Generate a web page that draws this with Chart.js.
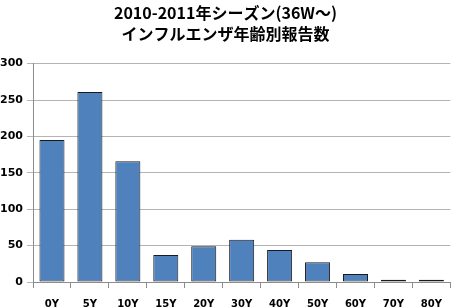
<!DOCTYPE html>
<html>
<head>
<meta charset="utf-8">
<script src="https://cdn.jsdelivr.net/npm/chart.js@4"></script>
<style>
  html, body { margin: 0; padding: 0; background: #fff; }
  canvas { display: block; }
</style>
</head>
<body>
<canvas id="myChart" width="452" height="308"></canvas>
<script>
const titleLines = ["2010-2011年シーズン(36W～)", "インフルエンザ年齢別報告数"];
const ageLabels = ["0Y", "5Y", "10Y", "15Y", "20Y", "30Y", "40Y", "50Y", "60Y", "70Y", "80Y"];
const reports = [195, 261, 166, 37, 49, 58, 44, 27, 11, 3, 3];
const yTicks = [0, 50, 100, 150, 200, 250, 300];

const ctx = document.getElementById("myChart").getContext("2d");
const jpFont = "'Noto Sans CJK JP', 'DejaVu Sans', sans-serif";

const data = {
  labels: ageLabels,
  datasets: [
    {
      data: reports,
      backgroundColor: "#4F81BD",
      borderColor: "#1a1a1a",
      borderWidth: 1,
      borderSkipped: false,
      barPercentage: 0.66,
      categoryPercentage: 1,
    },
  ],
};

const config = {
  type: "bar",
  data,
  options: {
    responsive: false,
    animation: false,
    layout: { padding: { left: 0, right: 1, top: 3, bottom: 0 } },
    plugins: {
      legend: { display: false },
      tooltip: { enabled: false },
      title: {
        display: true,
        text: titleLines,
        color: "#000",
        font: { family: jpFont, size: 16, weight: "bold", lineHeight: 1.3 },
        padding: { top: 0, bottom: 19 },
      },
    },
    scales: {
      x: {
        offset: true,
        afterFit: (scale) => {
          scale.height = 26;
        },
        grid: {
          drawOnChartArea: false,
          drawTicks: true,
          tickLength: 6,
          color: "#8c8c8c",
          offset: true,
        },
        border: { color: "#8c8c8c" },
        ticks: {
          color: "#000",
          padding: 10,
          font: { family: "'DejaVu Sans', sans-serif", size: 10, weight: "bold" },
        },
      },
      y: {
        min: 0,
        max: 300,
        afterBuildTicks: (scale) => {
          scale.ticks = yTicks.map((v) => ({ value: v }));
        },
        afterFit: (scale) => {
          scale.width = 33;
        },
        grid: { color: "#b4b4b4", tickLength: 6, lineWidth: 1 },
        border: { color: "#8c8c8c" },
        ticks: {
          color: "#000",
          padding: 4,
          font: { family: "'DejaVu Sans', sans-serif", size: 11, weight: "bold" },
        },
      },
    },
  },
};

new Chart(ctx, config);
</script>
</body>
</html>
